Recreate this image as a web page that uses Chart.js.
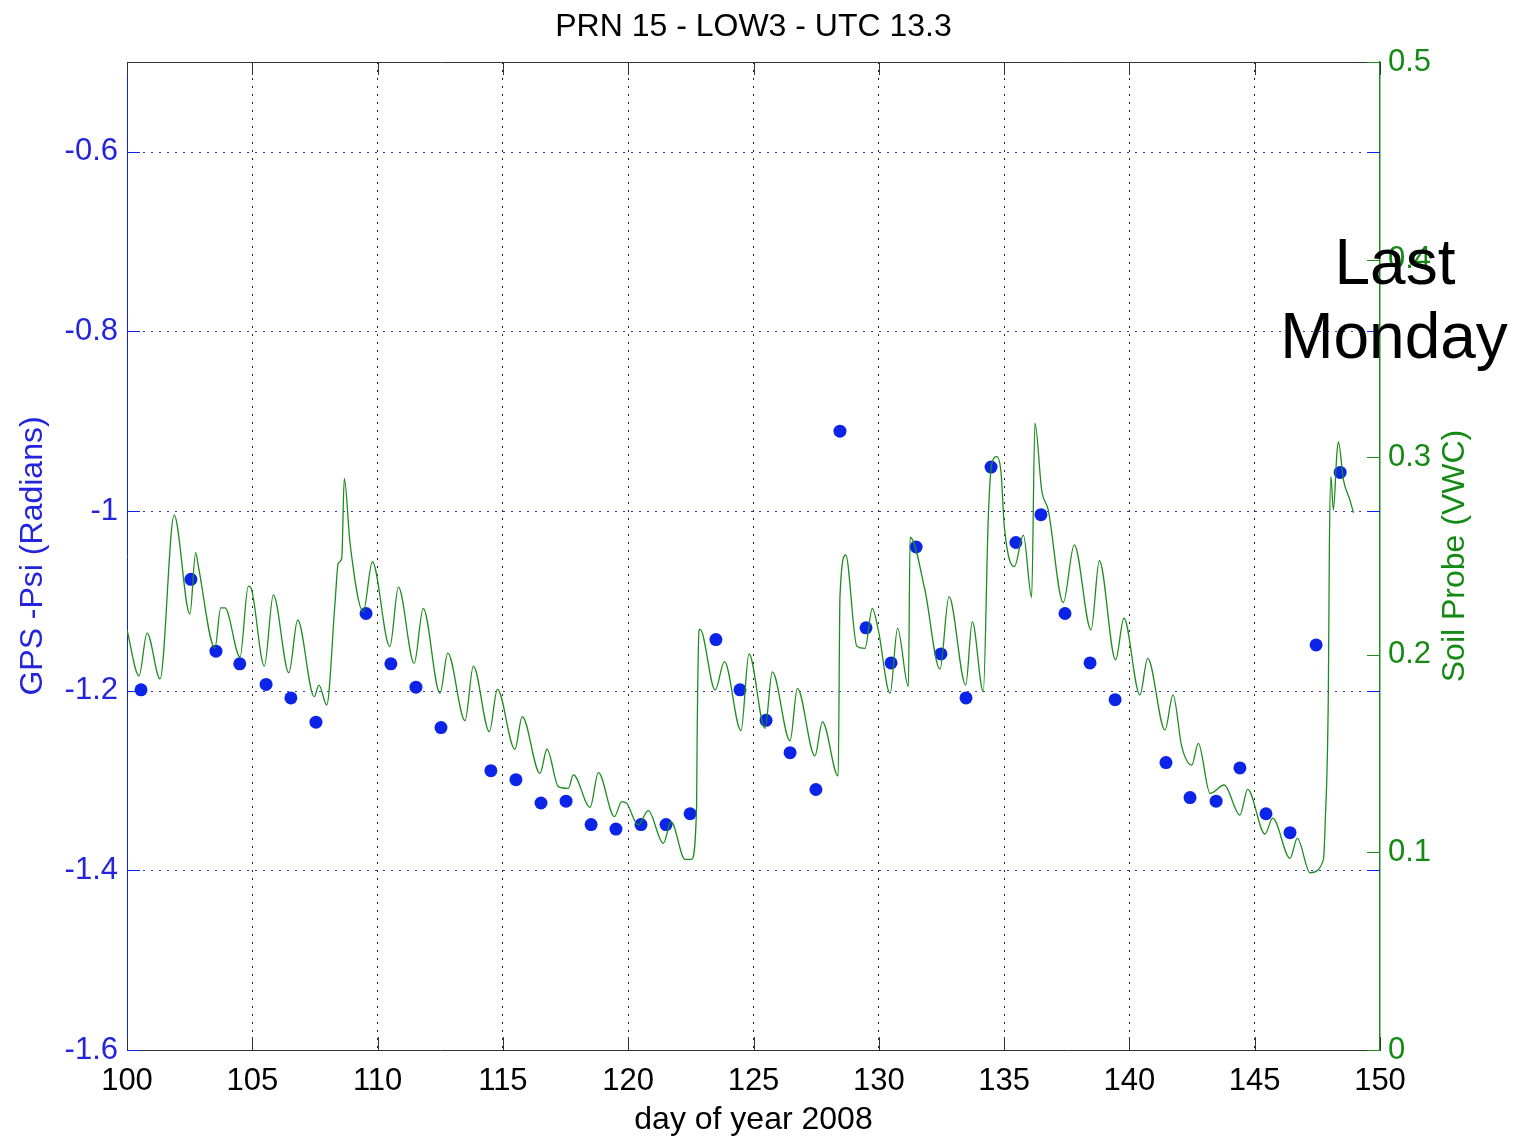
<!DOCTYPE html>
<html>
<head>
<meta charset="utf-8">
<script src="https://cdn.jsdelivr.net/npm/chart.js@4.4.1/dist/chart.umd.min.js"></script>
<style>
html,body{margin:0;padding:0;background:#ffffff;}
#wrap{width:1517px;height:1140px;}
</style>
</head>
<body>
<div id="wrap"><canvas id="c" width="1517" height="1140"></canvas></div>
<script>
// ---------- texts ----------
const chartTitle = 'PRN 15 - LOW3 - UTC 13.3';
const xTitle = 'day of year 2008';
const leftTitle = 'GPS -Psi (Radians)';
const rightTitle = 'Soil Probe (VWC)';
const noteLines = ['Last', 'Monday'];

// ---------- tick labels ----------
const xTicks = [100, 105, 110, 115, 120, 125, 130, 135, 140, 145, 150];
const leftTicks = [-1.6, -1.4, -1.2, -1.0, -0.8, -0.6];
const rightTicks = [0, 0.1, 0.2, 0.3, 0.4, 0.5];

// ---------- GPS -Psi (blue dots, left axis) ----------
const gpsDays = [100.56, 102.55, 103.55, 104.50, 105.55, 106.54, 107.54, 109.54, 110.53, 111.53,
                 112.53, 114.52, 115.52, 116.52, 117.52, 118.52, 119.51, 120.51, 121.51, 122.47,
                 123.50, 124.46, 125.50, 126.46, 127.49, 128.45, 129.49, 130.49, 131.49, 132.48,
                 133.48, 134.48, 135.47, 136.47, 137.43, 138.43, 139.43, 141.46, 142.42, 143.46,
                 144.41, 145.45, 146.41, 147.45, 148.41];
const gpsPsi = [-1.199, -1.076, -1.156, -1.170, -1.193, -1.208, -1.235, -1.114, -1.170, -1.196,
                -1.241, -1.289, -1.299, -1.325, -1.323, -1.349, -1.354, -1.349, -1.349, -1.337,
                -1.143, -1.199, -1.233, -1.269, -1.310, -0.911, -1.130, -1.169, -1.040, -1.159,
                -1.208, -0.951, -1.035, -1.004, -1.114, -1.169, -1.210, -1.280, -1.319, -1.323,
                -1.286, -1.337, -1.358, -1.149, -0.957];

// ---------- Soil probe (green line, right axis) ----------
const soilDays = [100.00, 100.48, 100.80, 101.32, 101.88, 102.51, 102.74, 102.85, 103.51, 103.74,
                  103.91, 104.51, 104.84, 104.95, 105.48, 105.84, 106.46, 106.81, 107.47, 107.66,
                  107.97, 108.30, 108.43, 108.57, 108.67, 108.90, 109.43, 109.79, 110.49, 110.83,
                  111.46, 111.82, 112.49, 112.80, 113.49, 113.82, 114.46, 114.78, 115.48, 115.77,
                  116.48, 116.76, 117.21, 117.61, 117.81, 118.48, 118.81, 119.45, 119.74, 119.94,
                  120.40, 120.80, 121.40, 121.71, 122.27, 122.53, 122.73, 122.75, 122.83, 122.87,
                  123.47, 123.84, 124.50, 124.82,
                  125.46, 125.75, 126.46, 126.75, 127.45, 127.75, 128.38, 128.45, 128.68, 129.12,
                  129.45, 129.74, 129.98, 130.45, 130.75, 131.18, 131.25, 131.84, 132.44, 132.80,
                  133.47, 133.73, 134.17, 134.37, 134.51, 134.71, 134.88, 135.01, 135.41, 135.77,
                  136.10, 136.23, 136.50, 136.76, 137.36, 137.80, 138.47, 138.80, 139.45, 139.78,
                  140.42, 140.73, 141.42, 141.74, 142.09, 142.49, 142.75, 143.22, 143.78, 144.41,
                  144.72, 145.41, 145.72, 146.41, 146.70, 147.21, 147.74, 147.81, 147.94, 147.98,
                  148.04, 148.14, 148.28, 148.34, 148.54, 148.80, 148.94];
const soilVWC = [0.2126, 0.1893, 0.2110, 0.1878, 0.2707, 0.2206, 0.2517, 0.2446, 0.2034, 0.2237,
                 0.2237, 0.1989, 0.2348, 0.2338, 0.1943, 0.2303, 0.1909, 0.2176, 0.1788, 0.1847,
                 0.1746, 0.2262, 0.2463, 0.2490, 0.2893, 0.2566, 0.2218, 0.2471, 0.2041, 0.2342,
                 0.1957, 0.2235, 0.1805, 0.2008, 0.1667, 0.1943, 0.1611, 0.1825, 0.1522, 0.1687,
                 0.1400, 0.1522, 0.1333, 0.1324, 0.1392, 0.1228, 0.1404, 0.1181, 0.1257, 0.1248,
                 0.1139, 0.1211, 0.1046, 0.1155, 0.0965, 0.0965, 0.1231, 0.1569, 0.2126, 0.2129,
                 0.1822, 0.1965, 0.1616, 0.2004,
                 0.1628, 0.1914, 0.1565, 0.1830, 0.1488, 0.1661, 0.1387, 0.2294, 0.2505, 0.2045,
                 0.2033, 0.2235, 0.2126, 0.1805, 0.2134, 0.1839, 0.2595, 0.2328, 0.1927, 0.2294,
                 0.1847, 0.2168, 0.1813, 0.2699, 0.2969, 0.3003, 0.2919, 0.2648, 0.2446, 0.2606,
                 0.2291, 0.3172, 0.2834, 0.2733, 0.2264, 0.2556, 0.2126, 0.2476, 0.1974, 0.2185,
                 0.1797, 0.1982, 0.1619, 0.1797, 0.1535, 0.1442, 0.1552, 0.1299, 0.1341, 0.1189,
                 0.1319, 0.1093, 0.1173, 0.0970, 0.1071, 0.0897, 0.0962, 0.1139, 0.1822, 0.2547,
                 0.2901, 0.2733, 0.3020, 0.3078, 0.2885, 0.2783, 0.2719];

// ---------- styling ----------
const FONT = "'Liberation Sans', Arial, Helvetica, sans-serif";
const BLUE = '#0b24e8';
const BLUE_TXT = '#2424dd';
const GRID_BLUE = '#3030e0';
const GREEN = '#1e8c1e';
const GREEN_TXT = '#148a14';

const gpsData = gpsDays.map((d, i) => ({x: d, y: gpsPsi[i]}));
const soilData = soilDays.map((d, i) => ({x: d, y: soilVWC[i]}));

function fmt(v) { return String(Number(v.toFixed(3))); }

const decor = {
  id: 'decor',
  beforeDatasetsDraw(chart) {
    const {ctx, chartArea: a, scales} = chart;
    const L = 13;
    const seg = (x1, y1, x2, y2, c) => {
      ctx.strokeStyle = c; ctx.beginPath(); ctx.moveTo(x1, y1); ctx.lineTo(x2, y2); ctx.stroke();
    };
    ctx.save();
    ctx.lineWidth = 1;
    // horizontal dotted grid (left-axis ticks, inside the plot)
    ctx.setLineDash([2, 6]);
    leftTicks.forEach(v => {
      if (v <= scales.y.min) return;
      const y = Math.round(scales.y.getPixelForValue(v)) + 0.5;
      seg(a.left, y, a.right, y, GRID_BLUE);
    });
    ctx.setLineDash([]);
    // top frame line
    seg(a.left, a.top + 0.5, a.right, a.top + 0.5, '#333333');
    // x ticks (inward, top and bottom)
    xTicks.forEach(v => {
      const x = Math.round(scales.x.getPixelForValue(v)) + 0.5;
      seg(x, a.top, x, a.top + L, '#333333');
      seg(x, a.bottom, x, a.bottom - L, '#333333');
    });
    // left-axis ticks (both sides)
    leftTicks.forEach(v => {
      const y = Math.round(scales.y.getPixelForValue(v)) + 0.5;
      seg(a.left, y, a.left + L, y, BLUE);
      seg(a.right - L, y, a.right, y, BLUE);
    });
    // right-axis ticks (right side)
    rightTicks.forEach(v => {
      const y = Math.round(scales.y2.getPixelForValue(v)) + 0.5;
      seg(a.right - L, y, a.right, y, GREEN);
    });
    ctx.restore();
  },
  afterDraw(chart) {
    const {ctx, chartArea: a} = chart;
    ctx.save();
    // right axis title, reading bottom to top
    ctx.translate(1455, (a.top + a.bottom) / 2);
    ctx.rotate(-Math.PI / 2);
    ctx.fillStyle = GREEN_TXT;
    ctx.font = '32px ' + FONT;
    ctx.textAlign = 'center';
    ctx.textBaseline = 'middle';
    ctx.fillText(rightTitle, 0, 0);
    ctx.restore();
    // note
    ctx.save();
    ctx.fillStyle = '#000000';
    ctx.font = '64px ' + FONT;
    ctx.textAlign = 'center';
    ctx.textBaseline = 'alphabetic';
    ctx.fillText(noteLines[0], a.right + 15, 284);
    ctx.fillText(noteLines[1], a.right + 14, 358);
    ctx.restore();
  }
};

new Chart(document.getElementById('c'), {
  type: 'scatter',
  data: {
    datasets: [
      {
        type: 'line',
        label: 'Soil Probe',
        data: soilData,
        yAxisID: 'y2',
        borderColor: GREEN,
        borderWidth: 1.3,
        pointRadius: 0,
        cubicInterpolationMode: 'monotone',
        fill: false,
        showLine: true,
        order: 0
      },
      {
        label: 'GPS -Psi',
        data: gpsData,
        yAxisID: 'y',
        backgroundColor: BLUE,
        borderColor: BLUE,
        borderWidth: 0,
        pointRadius: 6.5,
        showLine: false,
        order: 1
      }
    ]
  },
  options: {
    responsive: false,
    animation: false,
    events: [],
    layout: {padding: 0},
    plugins: {
      legend: {display: false},
      tooltip: {enabled: false},
      title: {
        display: true,
        fullSize: false,
        text: chartTitle,
        color: '#000000',
        font: {family: FONT, size: 32, weight: 'normal', lineHeight: 1.2},
        padding: {top: 8, bottom: 15.6}
      }
    },
    scales: {
      x: {
        type: 'linear',
        position: 'bottom',
        min: 100, max: 150,
        afterBuildTicks: s => { s.ticks = xTicks.map(v => ({value: v})); },
        afterFit: s => { s.height = 90; },
        ticks: {
          color: '#000000',
          font: {family: FONT, size: 31},
          padding: 13,
          autoSkip: false,
          maxRotation: 0,
          callback: v => fmt(v)
        },
        grid: {
          drawTicks: false,
          lineWidth: 1,
          color: c => (c.tick && (c.tick.value === 100 || c.tick.value === 150)) ? 'rgba(0,0,0,0)' : '#222222'
        },
        border: {display: true, color: '#333333', width: 1, dash: [2, 6]},
        title: {
          display: true, text: xTitle, color: '#000000',
          font: {family: FONT, size: 32, lineHeight: 1.2},
          padding: {top: 0, bottom: 1}
        }
      },
      y: {
        type: 'linear',
        position: 'left',
        min: -1.6, max: -0.5,
        afterBuildTicks: s => { s.ticks = leftTicks.map(v => ({value: v})); },
        afterFit: s => { s.width = 127; },
        ticks: {
          color: BLUE_TXT,
          font: {family: FONT, size: 31},
          padding: 9,
          autoSkip: false,
          callback: v => fmt(v)
        },
        grid: {display: false, drawTicks: false},
        border: {display: true, color: BLUE, width: 1},
        title: {
          display: true, text: leftTitle, color: BLUE_TXT,
          font: {family: FONT, size: 32, lineHeight: 1.2},
          padding: {top: 14, bottom: 0}
        }
      },
      y2: {
        type: 'linear',
        position: 'right',
        min: 0, max: 0.5,
        afterBuildTicks: s => { s.ticks = rightTicks.map(v => ({value: v})); },
        afterFit: s => { s.width = 137; },
        ticks: {
          color: GREEN_TXT,
          font: {family: FONT, size: 31},
          padding: 8,
          autoSkip: false,
          callback: v => fmt(v)
        },
        grid: {drawOnChartArea: false, drawTicks: false},
        border: {display: true, color: GREEN, width: 1.5}
      }
    }
  },
  plugins: [decor]
});
</script>
</body>
</html>
